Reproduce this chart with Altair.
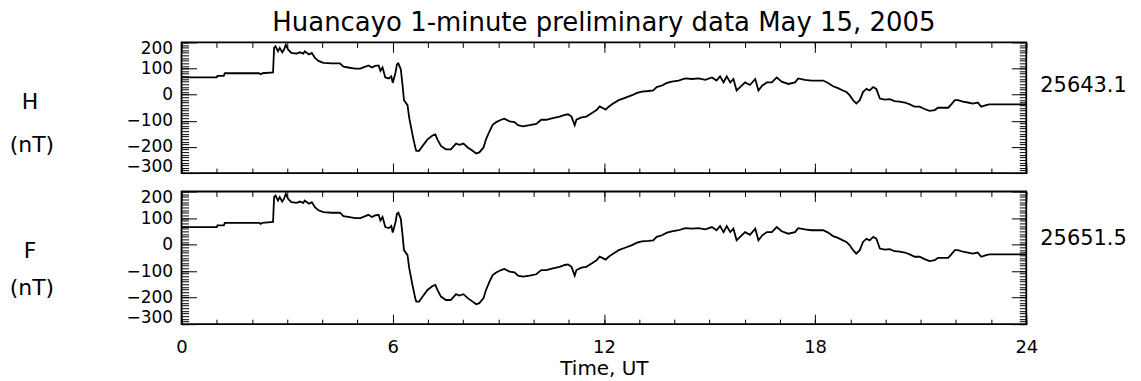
import altair as alt
import pandas as pd

# ---- data (hours UT, nT) ----
HOURS = [0.00, 1.00, 1.02, 1.20, 1.23, 2.20, 2.25, 2.30, 2.60, 2.63, 2.67, 2.74, 2.79, 2.86,
         2.91, 2.96, 3.03, 3.12, 3.27, 3.36, 3.46, 3.50, 3.62, 3.70, 3.79, 3.89, 4.03, 4.27,
         4.50, 4.60, 4.74, 4.93, 5.08, 5.22, 5.31, 5.41, 5.50, 5.60, 5.65, 5.71, 5.79, 5.89,
         5.96, 6.00, 6.08, 6.12, 6.16, 6.23, 6.28, 6.32, 6.42, 6.47, 6.56, 6.64, 6.67, 6.75,
         6.85, 6.99, 7.13, 7.21, 7.27, 7.37, 7.51, 7.65, 7.80, 7.89, 8.01, 8.13, 8.27, 8.37,
         8.46, 8.58, 8.65, 8.75, 8.84, 8.94, 9.08, 9.17, 9.32, 9.46, 9.56, 9.70, 9.89, 10.08,
         10.22, 10.36, 10.55, 10.74, 10.89, 10.98, 11.08, 11.17, 11.22, 11.36, 11.50, 11.65,
         11.79, 11.88, 11.98, 12.05, 12.12, 12.23, 12.42, 12.60, 12.80, 12.94, 13.08, 13.27,
         13.40, 13.50, 13.65, 13.79, 13.93, 14.12, 14.31, 14.50, 14.69, 14.88, 15.07, 15.20,
         15.30, 15.40, 15.49, 15.59, 15.68, 15.77, 15.87, 16.01, 16.15, 16.30, 16.39, 16.50,
         16.63, 16.77, 16.91, 17.05, 17.24, 17.43, 17.52, 17.71, 17.90, 18.04, 18.23, 18.37,
         18.51, 18.65, 18.79, 18.89, 18.98, 19.08, 19.17, 19.27, 19.36, 19.46, 19.55, 19.65,
         19.74, 19.84, 19.98, 20.12, 20.26, 20.40, 20.55, 20.69, 20.83, 20.97, 21.11, 21.25,
         21.40, 21.49, 21.63, 21.78, 21.87, 21.97, 22.06, 22.20, 22.34, 22.48, 22.62, 22.72,
         22.86, 22.95, 24.00]

H_NT = [66, 66, 72, 72, 82, 82, 78, 82, 85, 180, 185, 166, 179, 162,
        172, 191, 172, 160, 157, 162, 157, 166, 154, 160, 141, 129, 122, 120,
        120, 107, 104, 100, 100, 107, 112, 104, 110, 112, 91, 104, 66, 62,
        70, 45, 85, 116, 120, 97, 35, -21, -40, -90, -152, -202, -215, -215,
        -196, -171, -156, -152, -171, -196, -209, -209, -187, -192, -187, -202, -215, -225,
        -221, -202, -171, -140, -115, -105, -96, -92, -102, -105, -117, -121, -117, -112,
        -96, -96, -90, -84, -77, -75, -84, -117, -96, -87, -84, -71,
        -59, -45, -52, -57, -48, -37, -21, -12, -2, 7, 12, 14,
        16, 29, 35, 45, 50, 54, 62, 60, 62, 57, 66, 54,
        70, 47, 70, 47, 60, 16, 29, 47, 37, 60, 16, 35,
        47, 47, 66, 50, 41, 47, 62, 57, 54, 54, 54, 45,
        32, 25, 16, 10, -2, -21, -34, -21, 10, 22, 16, 29,
        22, -15, -19, -17, -25, -27, -30, -37, -46, -46, -55, -62,
        -59, -50, -50, -50, -37, -21, -21, -27, -30, -34, -30, -46,
        -40, -37, -37]

F_NT = [66, 66, 72, 72, 82, 82, 78, 82, 85, 180, 185, 166, 179, 162,
        172, 191, 172, 160, 157, 162, 157, 166, 154, 160, 141, 129, 122, 120,
        120, 107, 104, 100, 100, 107, 112, 104, 110, 112, 91, 104, 66, 62,
        70, 45, 85, 116, 120, 97, 35, -21, -40, -90, -152, -202, -215, -215,
        -196, -171, -156, -152, -171, -196, -209, -209, -187, -192, -187, -202, -215, -225,
        -221, -202, -171, -140, -115, -105, -96, -92, -102, -105, -117, -121, -117, -112,
        -96, -96, -90, -84, -77, -75, -84, -117, -96, -87, -84, -71,
        -59, -45, -52, -57, -48, -37, -21, -12, -2, 7, 12, 14,
        16, 29, 35, 45, 50, 54, 62, 60, 62, 57, 66, 54,
        70, 47, 70, 47, 60, 16, 29, 47, 37, 60, 16, 35,
        47, 47, 66, 50, 41, 47, 62, 57, 54, 54, 54, 45,
        32, 25, 16, 10, -2, -21, -34, -21, 10, 22, 16, 29,
        22, -15, -19, -17, -25, -27, -30, -37, -46, -46, -55, -62,
        -59, -50, -50, -50, -37, -21, -21, -27, -30, -34, -30, -46,
        -40, -37, -37]

COMPONENTS = ["H", "F"]
BASELINES = ["25643.1", "25651.5"]
UNIT = "(nT)"
TITLE = "Huancayo 1-minute preliminary data May 15, 2005"
X_TITLE = "Time, UT"

Y_MAJOR = [-300, -200, -100, 0, 100, 200]
Y_MINOR = list(range(-300, 201, 10))
X_MAJOR = [0, 6, 12, 18, 24]
X_MINOR = list(range(0, 25))

FONT = "DejaVu Sans"
PW = 847


def panel(values, comp, base, bottom, lab_y, ph):
    df = pd.DataFrame({"hour": HOURS, "nT": values})
    xs = alt.Scale(domain=[0, 24], nice=False, zero=False)
    ys = alt.Scale(domain=[-300, 200], nice=False, zero=False)

    def layer(xaxis, yaxis, opacity):
        return alt.Chart(df).mark_line(
            color="black", strokeWidth=1.8, opacity=opacity, clip=True
        ).encode(
            x=alt.X("hour:Q", scale=xs, axis=xaxis),
            y=alt.Y("nT:Q", scale=ys, axis=yaxis),
        )

    common = dict(domain=False, grid=False, tickColor="black", tickWidth=1)
    x_bottom_major = alt.Axis(
        orient="bottom", values=X_MAJOR, offset=-10, tickSize=10, labels=bottom,
        labelFlush=False, format="d", labelFont=FONT, labelFontSize=18,
        labelColor="black", labelPadding=14, title=X_TITLE if bottom else None,
        titleFont=FONT, titleFontSize=20, titleFontWeight="normal",
        titleColor="black", titlePadding=2, **common)
    x_top_major = alt.Axis(orient="top", values=X_MAJOR, offset=-10, tickSize=10,
                           labels=False, title=None, **common)
    x_bottom_minor = alt.Axis(orient="bottom", values=X_MINOR, offset=-5, tickSize=5,
                              labels=False, title=None, **common)
    x_top_minor = alt.Axis(orient="top", values=X_MINOR, offset=-5, tickSize=5,
                           labels=False, title=None, **common)
    y_left_major = alt.Axis(
        orient="left", values=Y_MAJOR, offset=-15, tickSize=15, labels=True,
        labelFlush=True, labelFlushOffset=2, labelOverlap=False, format="d",
        labelFont=FONT, labelFontSize=17, labelColor="black", labelPadding=9,
        title=None, **common)
    y_right_major = alt.Axis(orient="right", values=Y_MAJOR, offset=-15, tickSize=15,
                             labels=False, title=None, **common)
    y_left_minor = alt.Axis(orient="left", values=Y_MINOR, offset=-7, tickSize=7,
                            labels=False, title=None, **common)
    y_right_minor = alt.Axis(orient="right", values=Y_MINOR, offset=-7, tickSize=7,
                             labels=False, title=None, **common)

    comp_t = alt.Chart(pd.DataFrame({"t": [comp]})).mark_text(
        font=FONT, fontSize=22, color="black", align="center", baseline="middle"
    ).encode(x=alt.value(-152), y=alt.value(lab_y[0]), text="t:N")
    unit_t = alt.Chart(pd.DataFrame({"t": [UNIT]})).mark_text(
        font=FONT, fontSize=22, color="black", align="center", baseline="middle"
    ).encode(x=alt.value(-150), y=alt.value(lab_y[1]), text="t:N")
    base_t = alt.Chart(pd.DataFrame({"t": [base]})).mark_text(
        font=FONT, fontSize=21, color="black", align="left", baseline="middle"
    ).encode(x=alt.value(PW + 14), y=alt.value(lab_y[2]), text="t:N")

    return alt.layer(
        layer(x_bottom_major, y_left_major, 1),
        layer(x_top_major, y_right_major, 0),
        layer(x_bottom_minor, y_left_minor, 0),
        layer(x_top_minor, y_right_minor, 0),
        comp_t, unit_t, base_t,
    ).resolve_axis(x="independent", y="independent").properties(width=PW, height=ph)


top = panel(H_NT, COMPONENTS[0], BASELINES[0], False, (60, 103.3, 44), 131).properties(
    title=alt.TitleParams(TITLE, font=FONT, fontSize=26, fontWeight="normal",
                          color="black", anchor="middle", frame="group", offset=3)
)
bottom = panel(F_NT, COMPONENTS[1], BASELINES[1], True, (60, 97, 47.5), 133)

chart = alt.vconcat(top, bottom, spacing=12.5).properties(
    padding={"left": 0, "top": 1, "right": 5, "bottom": 2},
    background="white",
).configure_view(stroke="black", strokeWidth=1.8)

chart.save("out.html", embed_options={"renderer": "svg", "actions": False})
